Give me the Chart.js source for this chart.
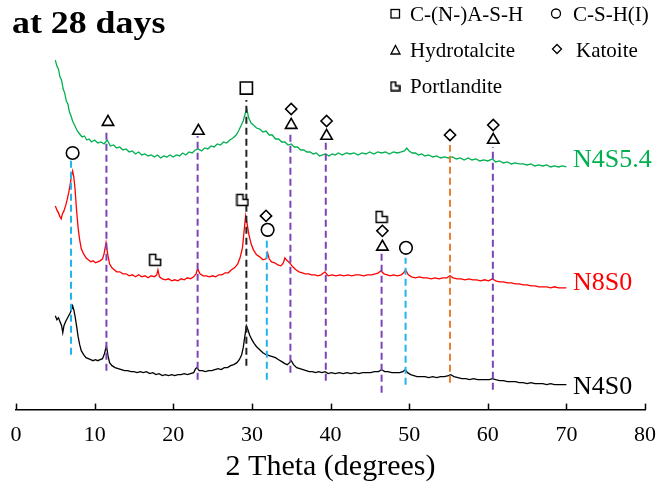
<!DOCTYPE html>
<html>
<head>
<meta charset="utf-8">
<script src="https://cdn.jsdelivr.net/npm/chart.js@4.4.1/dist/chart.umd.min.js"></script>
<style>
  html, body { margin: 0; padding: 0; background: #fff; }
  canvas { display: block; }
</style>
</head>
<body>
<canvas id="xrdChart" width="659" height="484"></canvas>
<script>
// XRD patterns at 28 days (intensity is offset per sample, arbitrary units)
const n4s54X = [5.0,5.2,5.4,5.6,5.8,6.0,6.2,6.4,6.6,6.8,7.0,7.2,7.5,7.8,8.1,8.4,8.7,9.0,9.3,9.6,10.0,10.4,10.8,11.2,11.6,12.0,12.4,12.8,13.2,13.6,14.0,14.4,14.8,15.2,15.6,16.0,16.4,16.8,17.2,17.6,18.0,18.4,18.8,19.2,19.6,20.0,20.4,20.8,21.2,21.6,22.0,22.4,22.8,23.2,23.6,24.0,24.4,24.8,25.2,25.6,26.0,26.4,26.8,27.2,27.6,28.0,28.3,28.6,28.9,29.1,29.35,29.6,29.9,30.2,30.6,31.0,31.4,31.8,32.2,32.6,33.0,33.4,33.8,34.2,34.6,35.0,35.4,35.8,36.2,36.6,37.0,37.4,37.8,38.2,38.6,39.0,39.4,39.8,40.2,40.6,41.0,41.5,42.0,42.5,43.0,43.5,44.0,44.5,45.0,45.5,46.0,46.5,47.0,47.5,48.0,48.5,49.0,49.4,49.7,50.0,50.4,50.8,51.2,51.6,52.0,52.5,53.0,53.5,54.0,54.5,55.0,55.5,56.0,56.5,57.0,57.5,58.0,58.5,59.0,59.5,60.0,60.6,61.0,61.5,62.0,62.5,63.0,63.5,64.0,64.5,65.0,65.5,66.0,66.5,67.0,67.5,68.0,68.5,69.0,69.5,70.0];
const n4s54Y = [350,344,341,333,330,321,317,309,306,298,294,289,284,279,276,273,274,270,271,268,270,267,268,266,270,264,265,262,263,260,261,258,259,256,258,255,256,254,255,253,255,252,254,253,255,253,255,254,257,255,258,257,260,261,259,262,261,264,263,266,265,268,267,270,272,275,279,284,289,295,301,292,287,285,282,281,278,279,275,275,271,271,268,268,265,266,263,263,260,260,258,258,256,257,254,255,256,254,256,255,257,255,257,256,257,255,257,256,258,256,258,257,258,256,258,257,258,259,262,259,257,257,255,256,254,255,253,254,252,253,252,253,251,252,250,252,250,251,249,250,249,251,248,249,247,248,246,247,246,246,245,246,244,245,244,245,243,244,243,244,243];

const n8s0X = [5.0,5.2,5.4,5.6,5.75,5.9,6.1,6.3,6.5,6.7,6.9,7.05,7.2,7.35,7.5,7.7,7.9,8.1,8.3,8.6,8.9,9.2,9.5,9.8,10.1,10.4,10.7,11.0,11.2,11.45,11.7,11.9,12.2,12.5,12.8,13.2,13.6,14.0,14.4,14.8,15.2,15.6,16.0,16.4,16.8,17.2,17.6,17.9,18.05,18.25,18.6,19.0,19.4,19.8,20.2,20.6,21.0,21.4,21.8,22.2,22.6,22.9,23.1,23.4,23.8,24.2,24.6,25.0,25.4,25.8,26.2,26.6,27.0,27.4,27.8,28.2,28.5,28.8,29.0,29.2,29.4,29.6,29.9,30.2,30.6,31.0,31.4,31.8,32.0,32.2,32.5,32.9,33.3,33.7,34.0,34.2,34.5,34.8,35.2,35.6,36.0,36.4,36.8,37.2,37.6,38.0,38.4,38.8,39.3,39.7,40.2,40.7,41.2,41.7,42.2,42.7,43.2,43.7,44.2,44.7,45.2,45.7,46.1,46.4,46.8,47.2,47.6,48.0,48.5,49.0,49.3,49.55,49.9,50.3,50.8,51.3,51.8,52.3,52.8,53.3,53.8,54.3,54.8,55.2,55.6,56.1,56.6,57.1,57.6,58.1,58.6,59.1,59.6,60.1,60.6,61.0,61.5,62.0,62.5,63.0,63.5,64.0,64.5,65.0,65.5,66.0,66.5,67.0,67.5,68.0,68.5,69.0,69.5,70.0];
const n8s0Y = [204,200,197,193,191,196,199,204,210,217,226,234,239,233,222,200,182,170,161,156,152,150,148,149,147,148,149,151,156,167,154,146,142,140,138,138,136,136,134,135,133,135,133,134,132,134,133,135,140,133,131,130,131,129,130,129,131,130,132,131,133,136,141,136,134,134,133,134,133,135,135,137,137,140,142,146,152,162,178,194,186,176,166,160,155,153,150,151,157,151,148,147,145,144,147,152,149,147,143,140,138,137,136,136,135,135,134,135,138,134,135,134,135,134,135,134,135,135,134,135,135,136,137,139,136,135,134,135,134,135,137,140,135,133,132,133,132,132,131,132,131,132,132,134,132,131,131,130,131,130,130,129,130,129,131,129,128,128,127,127,126,126,125,125,124,124,123,123,123,122,123,122,122,122];

const n4s0X = [5.0,5.2,5.4,5.6,5.8,5.95,6.1,6.3,6.5,6.7,6.9,7.05,7.2,7.35,7.5,7.7,7.9,8.1,8.3,8.6,8.9,9.2,9.5,9.8,10.1,10.4,10.7,11.0,11.25,11.5,11.7,11.9,12.2,12.6,13.0,13.4,13.8,14.2,14.6,15.0,15.4,15.8,16.2,16.6,17.0,17.4,17.8,18.2,18.6,19.0,19.4,19.8,20.2,20.6,21.0,21.4,21.8,22.2,22.6,22.85,23.0,23.3,23.7,24.1,24.5,24.9,25.3,25.7,26.1,26.5,26.9,27.3,27.7,28.1,28.4,28.7,28.9,29.1,29.3,29.5,29.7,30.0,30.3,30.6,31.0,31.4,31.8,32.2,32.6,33.0,33.4,33.8,34.2,34.5,34.8,35.0,35.3,35.7,36.1,36.5,36.9,37.3,37.7,38.1,38.5,38.9,39.3,39.7,40.1,40.6,41.1,41.6,42.1,42.6,43.1,43.6,44.1,44.6,45.1,45.6,46.1,46.5,46.9,47.3,47.8,48.3,48.8,49.2,49.5,49.8,50.2,50.6,51.0,51.5,52.0,52.5,53.0,53.5,54.0,54.5,55.0,55.3,55.7,56.2,56.7,57.2,57.7,58.2,58.7,59.2,59.7,60.2,60.6,61.0,61.5,62.0,62.5,63.0,63.5,64.0,64.5,65.0,65.5,66.0,66.5,67.0,67.5,68.0,68.5,69.0,69.5,70.0];
const n4s0Y = [94,90,92,88,84,77,84,88,91,94,97,100,104,100,94,84,73,65,59,55,52,51,50,49,50,49,50,51,56,64,54,47,44,42,41,40,39,39,38,38,37,38,37,38,36,37,35,36,34,35,34,35,34,35,35,36,35,36,37,41,42,39,39,38,39,39,40,41,40,42,42,44,45,47,50,55,62,73,84,80,75,70,66,63,60,57,55,54,53,52,50,48,46,45,47,49,45,42,41,40,39,38,38,37,38,37,38,36,37,36,37,36,37,36,37,36,37,37,37,38,38,40,38,38,37,37,37,38,40,37,35,34,33,33,33,32,33,32,33,33,34,35,33,32,31,31,30,31,30,30,30,30,31,30,29,29,28,28,28,27,27,26,27,26,26,26,25,26,25,25,25,25];

// phase reference lines (2θ position, top and bottom of the dashed line, colour)
const refX = [7.0, 11.5, 23.1, 29.3, 31.9, 34.9, 39.4, 46.5, 49.55, 55.2, 60.65];
const refTop = [252, 279, 274, 310, 170, 277, 270, 157, 152, 265, 263];
const refBottom = [55, 39, 30, 44, 30, 37, 29, 17, 25, 27, 20];
const refColor = ['#1fb4ee','#7a44b8','#7a44b8','#222222','#1fb4ee','#7a44b8','#7a44b8','#7a44b8','#1fb4ee','#ed7d31','#7a44b8'];

// phase markers
const cshX = [7.2, 32.0, 49.6];
const cshY = [257, 180, 162];
const htX = [11.7, 23.2, 35.0, 39.5, 60.7, 46.6];
const htY = [288, 279, 285, 274, 270, 163];
const casX = [29.3];
const casY = [322];
const katX = [35.0, 39.5, 55.2, 60.7, 31.8, 46.6];
const katY = [301, 289, 275, 285, 194, 179];
const portX = [28.8, 17.7, 46.5];
const portY = [210, 150, 193];

const xTicks = [0, 10, 20, 30, 40, 50, 60, 70, 80];
const seriesNames = ['N4S5.4', 'N8S0', 'N4S0'];
const seriesColors = ['#00b050', '#ff0000', '#000000'];

const serif = "'Liberation Serif', 'Times New Roman', serif";

function portlanditeShape(size) {
  const c = document.createElement('canvas');
  c.width = size + 3; c.height = size + 3;
  const g = c.getContext('2d');
  g.translate(1.5, 1.5);
  g.lineWidth = 1.6;
  g.strokeStyle = '#000';
  g.fillStyle = '#fff';
  g.beginPath();
  g.moveTo(0, 0);
  g.lineTo(size * 0.55, 0);
  g.lineTo(size * 0.55, size * 0.45);
  g.lineTo(size, size * 0.45);
  g.lineTo(size, size);
  g.lineTo(0, size);
  g.closePath();
  g.fill();
  g.stroke();
  return c;
}

function pts(xs, ys) {
  return xs.map((x, i) => ({x: x, y: ys[i]}));
}

function markerSet(xs, ys, style, radius) {
  return {
    data: pts(xs, ys),
    showLine: false,
    pointStyle: style,
    pointRadius: radius,
    pointBorderColor: '#000',
    pointBackgroundColor: '#fff',
    pointBorderWidth: 1.6,
    order: 0
  };
}

const datasets = [];
[[n4s54X, n4s54Y], [n8s0X, n8s0Y], [n4s0X, n4s0Y]].forEach((s, i) => {
  datasets.push({
    data: pts(s[0], s[1]),
    borderColor: seriesColors[i],
    borderWidth: 1.3,
    pointRadius: 0,
    tension: 0,
    order: 2
  });
});
refX.forEach((x, i) => {
  datasets.push({
    data: [{x: x, y: refBottom[i]}, {x: x, y: refTop[i]}],
    borderColor: refColor[i],
    borderWidth: 2,
    borderDash: [7, 4],
    pointRadius: 0,
    order: 1
  });
});
datasets.push(markerSet(cshX, cshY, 'circle', 6.3));
datasets.push(markerSet(htX, htY, 'triangle', 6.6));
datasets.push(markerSet(casX, casY, 'rect', 8.6));
datasets.push(markerSet(katX, katY, 'rectRot', 5.6));
datasets.push(markerSet(portX, portY, portlanditeShape(11), 6));

// inward tick marks on the 2θ axis
const inwardTicks = {
  id: 'inwardTicks',
  afterDraw(chart) {
    const ctx = chart.ctx, xs = chart.scales.x, bottom = chart.chartArea.bottom;
    ctx.save();
    ctx.strokeStyle = '#000';
    ctx.lineWidth = 1.5;
    xTicks.forEach(v => {
      const px = Math.round(xs.getPixelForValue(v)) + 0.5;
      ctx.beginPath();
      ctx.moveTo(px, bottom);
      ctx.lineTo(px, bottom - 6);
      ctx.stroke();
    });
    ctx.restore();
  }
};

// heading, phase key and sample names
const annotations = {
  id: 'annotations',
  afterDraw(chart) {
    const ctx = chart.ctx;
    ctx.save();
    ctx.fillStyle = '#000';
    ctx.textBaseline = 'alphabetic';
    ctx.save();
    ctx.translate(12, 33);
    ctx.scale(1.12, 1);
    ctx.font = 'bold 32px ' + serif;
    ctx.fillText('at 28 days', 0, 0);
    ctx.restore();

    // key
    ctx.font = '21px ' + serif;
    ctx.lineWidth = 1.3;
    ctx.strokeStyle = '#000';
    ctx.strokeRect(391, 9.5, 8.5, 8.5);
    ctx.fillText('C-(N-)A-S-H', 410, 21);
    ctx.beginPath();
    ctx.arc(556, 13.5, 4.5, 0, Math.PI * 2);
    ctx.stroke();
    ctx.fillText('C-S-H(I)', 573, 21);
    ctx.beginPath();
    ctx.moveTo(395.5, 45.5);
    ctx.lineTo(400, 54);
    ctx.lineTo(391, 54);
    ctx.closePath();
    ctx.stroke();
    ctx.fillText('Hydrotalcite', 410, 57);
    ctx.beginPath();
    ctx.moveTo(557, 44.5);
    ctx.lineTo(561.5, 49);
    ctx.lineTo(557, 53.5);
    ctx.lineTo(552.5, 49);
    ctx.closePath();
    ctx.stroke();
    ctx.fillText('Katoite', 576, 57);
    ctx.drawImage(portlanditeShape(8.5), 389.5, 80.5);
    ctx.fillText('Portlandite', 410, 93);

    // sample names
    ctx.font = '26px ' + serif;
    ctx.textBaseline = 'middle';
    const ys = [160, 283, 387];
    seriesNames.forEach((n, i) => {
      ctx.fillStyle = seriesColors[i];
      ctx.fillText(n, 573, ys[i]);
    });
    ctx.restore();
  }
};

new Chart(document.getElementById('xrdChart'), {
  type: 'line',
  data: { datasets: datasets },
  options: {
    responsive: false,
    animation: false,
    events: [],
    layout: { padding: { top: 8, left: 16, right: 14, bottom: 1.5 } },
    plugins: { legend: { display: false }, tooltip: { enabled: false } },
    scales: {
      x: {
        type: 'linear',
        min: 0,
        max: 80,
        afterBuildTicks: axis => { axis.ticks = xTicks.map(v => ({value: v})); },
        ticks: { color: '#000', padding: 0, font: { family: serif, size: 22 } },
        grid: { display: true, drawOnChartArea: false, drawTicks: true, tickLength: 12, color: 'rgba(0,0,0,0)' },
        border: { display: true, color: '#000', width: 1.5 },
        title: {
          display: true,
          text: '2 Theta (degrees)',
          color: '#000',
          font: { family: serif, size: 30, lineHeight: 1.0 },
          padding: { top: 4.5, bottom: 0 }
        }
      },
      y: { display: false, min: 0, max: 400 }
    }
  },
  plugins: [inwardTicks, annotations]
});
</script>
</body>
</html>
